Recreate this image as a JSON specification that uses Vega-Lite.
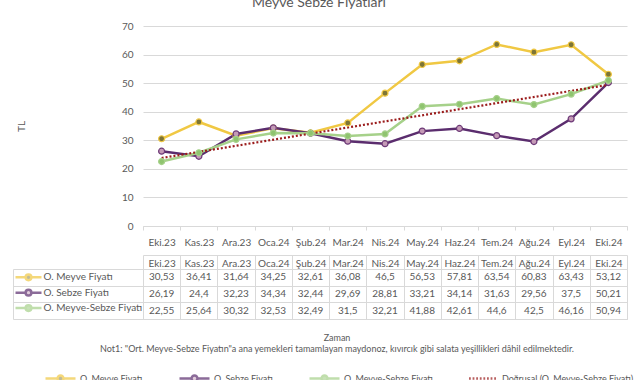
{
  "$schema": "https://vega.github.io/schema/vega-lite/v6.json",
  "padding": {"left": 12, "top": -4, "right": 4, "bottom": 0},
  "background": "white",
  "config": {
    "font": "Lato",
    "view": {"stroke": null},
    "locale": {"number": {"decimal": ",", "thousands": ".", "grouping": [3], "currency": ["", " TL"]}},
    "axis": {"labelFont": "Lato", "titleFont": "Lato", "labelColor": "#595959", "titleColor": "#595959"},
    "legend": {"labelFont": "Lato", "labelColor": "#595959"}
  },
  "title": {"text": "Meyve Sebze Fiyatları", "fontSize": 14, "fontWeight": "normal", "color": "#595959", "font": "Lato", "anchor": "middle", "frame": "group", "dx": -66, "offset": -3, "baseline": "bottom"},
  "datasets": {
    "prices": [
      {"month": "Eki.23", "i": 0, "series": "O. Meyve Fiyatı", "value": 30.53},
      {"month": "Kas.23", "i": 1, "series": "O. Meyve Fiyatı", "value": 36.41},
      {"month": "Ara.23", "i": 2, "series": "O. Meyve Fiyatı", "value": 31.64},
      {"month": "Oca.24", "i": 3, "series": "O. Meyve Fiyatı", "value": 34.25},
      {"month": "Şub.24", "i": 4, "series": "O. Meyve Fiyatı", "value": 32.61},
      {"month": "Mar.24", "i": 5, "series": "O. Meyve Fiyatı", "value": 36.08},
      {"month": "Nis.24", "i": 6, "series": "O. Meyve Fiyatı", "value": 46.5},
      {"month": "May.24", "i": 7, "series": "O. Meyve Fiyatı", "value": 56.53},
      {"month": "Haz.24", "i": 8, "series": "O. Meyve Fiyatı", "value": 57.81},
      {"month": "Tem.24", "i": 9, "series": "O. Meyve Fiyatı", "value": 63.54},
      {"month": "Ağu.24", "i": 10, "series": "O. Meyve Fiyatı", "value": 60.83},
      {"month": "Eyl.24", "i": 11, "series": "O. Meyve Fiyatı", "value": 63.43},
      {"month": "Eki.24", "i": 12, "series": "O. Meyve Fiyatı", "value": 53.12},
      {"month": "Eki.23", "i": 0, "series": "O. Sebze Fiyatı", "value": 26.19},
      {"month": "Kas.23", "i": 1, "series": "O. Sebze Fiyatı", "value": 24.4},
      {"month": "Ara.23", "i": 2, "series": "O. Sebze Fiyatı", "value": 32.23},
      {"month": "Oca.24", "i": 3, "series": "O. Sebze Fiyatı", "value": 34.34},
      {"month": "Şub.24", "i": 4, "series": "O. Sebze Fiyatı", "value": 32.44},
      {"month": "Mar.24", "i": 5, "series": "O. Sebze Fiyatı", "value": 29.69},
      {"month": "Nis.24", "i": 6, "series": "O. Sebze Fiyatı", "value": 28.81},
      {"month": "May.24", "i": 7, "series": "O. Sebze Fiyatı", "value": 33.21},
      {"month": "Haz.24", "i": 8, "series": "O. Sebze Fiyatı", "value": 34.14},
      {"month": "Tem.24", "i": 9, "series": "O. Sebze Fiyatı", "value": 31.63},
      {"month": "Ağu.24", "i": 10, "series": "O. Sebze Fiyatı", "value": 29.56},
      {"month": "Eyl.24", "i": 11, "series": "O. Sebze Fiyatı", "value": 37.5},
      {"month": "Eki.24", "i": 12, "series": "O. Sebze Fiyatı", "value": 50.21},
      {"month": "Eki.23", "i": 0, "series": "O. Meyve-Sebze Fiyatı", "value": 22.55},
      {"month": "Kas.23", "i": 1, "series": "O. Meyve-Sebze Fiyatı", "value": 25.64},
      {"month": "Ara.23", "i": 2, "series": "O. Meyve-Sebze Fiyatı", "value": 30.32},
      {"month": "Oca.24", "i": 3, "series": "O. Meyve-Sebze Fiyatı", "value": 32.53},
      {"month": "Şub.24", "i": 4, "series": "O. Meyve-Sebze Fiyatı", "value": 32.49},
      {"month": "Mar.24", "i": 5, "series": "O. Meyve-Sebze Fiyatı", "value": 31.5},
      {"month": "Nis.24", "i": 6, "series": "O. Meyve-Sebze Fiyatı", "value": 32.21},
      {"month": "May.24", "i": 7, "series": "O. Meyve-Sebze Fiyatı", "value": 41.88},
      {"month": "Haz.24", "i": 8, "series": "O. Meyve-Sebze Fiyatı", "value": 42.61},
      {"month": "Tem.24", "i": 9, "series": "O. Meyve-Sebze Fiyatı", "value": 44.6},
      {"month": "Ağu.24", "i": 10, "series": "O. Meyve-Sebze Fiyatı", "value": 42.5},
      {"month": "Eyl.24", "i": 11, "series": "O. Meyve-Sebze Fiyatı", "value": 46.16},
      {"month": "Eki.24", "i": 12, "series": "O. Meyve-Sebze Fiyatı", "value": 50.94}
    ],
    "months": [
      {"month": "Eki.23", "i": 0}, {"month": "Kas.23", "i": 1}, {"month": "Ara.23", "i": 2},
      {"month": "Oca.24", "i": 3}, {"month": "Şub.24", "i": 4}, {"month": "Mar.24", "i": 5},
      {"month": "Nis.24", "i": 6}, {"month": "May.24", "i": 7}, {"month": "Haz.24", "i": 8},
      {"month": "Tem.24", "i": 9}, {"month": "Ağu.24", "i": 10}, {"month": "Eyl.24", "i": 11},
      {"month": "Eki.24", "i": 12}
    ]
  },
  "bounds": "flush",
  "spacing": 43,
  "resolve": {
    "scale": {"stroke": "independent", "fill": "independent", "shape": "independent"},
    "legend": {"stroke": "independent", "fill": "independent", "shape": "independent"}
  },
  "vconcat": [
    {
      "width": 484,
      "height": 200,
      "data": {"name": "prices"},
      "encoding": {
        "x": {"field": "month", "type": "nominal", "scale": {"type": "band", "domain": ["Eki.23","Kas.23","Ara.23","Oca.24","Şub.24","Mar.24","Nis.24","May.24","Haz.24","Tem.24","Ağu.24","Eyl.24","Eki.24"], "paddingInner": 0, "paddingOuter": 0},
          "axis": {"orient": "bottom", "title": null, "labelAngle": 0, "labelFontSize": 10, "labelPadding": 7, "tickBand": "extent", "ticks": true, "tickSize": 4, "tickColor": "#d9d9d9", "domainColor": "#d9d9d9", "grid": false}},
        "y": {"field": "value", "type": "quantitative", "scale": {"domain": [0, 70]},
          "axis": {"values": [0,10,20,30,40,50,60,70], "tickCount": 8, "title": "TL", "titleFontSize": 10, "titleFontWeight": "normal", "titlePadding": 95, "labelFontSize": 10, "labelPadding": 10, "ticks": false, "domain": false, "grid": true, "gridColor": "#d9d9d9"}}
      },
      "layer": [
        {
          "transform": [{"filter": "datum.series === 'O. Meyve Fiyatı'"}],
          "mark": {"type": "line", "strokeWidth": 2.5, "stroke": "#f0c843"}
        },
        {
          "transform": [{"filter": "datum.series === 'O. Sebze Fiyatı'"}],
          "mark": {"type": "line", "strokeWidth": 2.5, "stroke": "#5b2d6e"}
        },
        {
          "transform": [{"filter": "datum.series === 'O. Meyve-Sebze Fiyatı'"}],
          "mark": {"type": "line", "strokeWidth": 2.5, "stroke": "#a6d18a"}
        },
        {
          "transform": [
            {"filter": "datum.series === 'O. Meyve-Sebze Fiyatı'"},
            {"regression": "value", "on": "i", "extent": [0, 12]},
            {"lookup": "i", "from": {"data": {"name": "months"}, "key": "i", "fields": ["month"]}}
          ],
          "mark": {"type": "line", "strokeWidth": 2.2, "strokeDash": [2, 2], "stroke": "#9b1c1c"}
        },
        {
          "transform": [{"filter": "datum.series === 'O. Meyve Fiyatı'"}],
          "mark": {"type": "point", "shape": "circle", "filled": true, "size": 36, "strokeWidth": 1.2, "opacity": 1, "fill": "#7d7536", "stroke": "#f0c843"}
        },
        {
          "transform": [{"filter": "datum.series === 'O. Sebze Fiyatı'"}],
          "mark": {"type": "point", "shape": "circle", "filled": true, "size": 36, "strokeWidth": 1.2, "opacity": 1, "fill": "#c49ab6", "stroke": "#6e3a78"}
        },
        {
          "transform": [{"filter": "datum.series === 'O. Meyve-Sebze Fiyatı'"}],
          "mark": {"type": "point", "shape": "circle", "filled": true, "size": 36, "strokeWidth": 1.2, "opacity": 1, "fill": "#8fc46f", "stroke": "#a6d18a"}
        },
        {
          "transform": [{"filter": "false"}],
          "mark": {"type": "point", "filled": true, "strokeWidth": 2.5},
          "encoding": {
            "stroke": {"field": "series", "type": "nominal", "scale": {"domain": ["O. Meyve Fiyatı","O. Sebze Fiyatı","O. Meyve-Sebze Fiyatı","Doğrusal (O. Meyve-Sebze Fiyatı)"], "range": ["#f0c843","#5b2d6e","#a6d18a","#9b1c1c"]},
              "legend": {"title": null, "orient": "none", "legendX": -87, "legendY": 348, "direction": "horizontal", "gridAlign": "none", "symbolSize": 36, "symbolStrokeWidth": 2.5, "labelFontSize": 9, "labelOffset": 15, "columnPadding": 31, "padding": 0}},
            "fill": {"field": "series", "type": "nominal", "scale": {"domain": ["O. Meyve Fiyatı","O. Sebze Fiyatı","O. Meyve-Sebze Fiyatı","Doğrusal (O. Meyve-Sebze Fiyatı)"], "range": ["#7d7536","#c49ab6","#8fc46f","transparent"]}},
            "shape": {"field": "series", "type": "nominal", "scale": {"domain": ["O. Meyve Fiyatı","O. Sebze Fiyatı","O. Meyve-Sebze Fiyatı","Doğrusal (O. Meyve-Sebze Fiyatı)"], "range": ["M-5,0H-1M1,0H5M-1,0A1,1,0,1,0,1,0A1,1,0,1,0,-1,0Z","M-5,0H-1M1,0H5M-1,0A1,1,0,1,0,1,0A1,1,0,1,0,-1,0Z","M-5,0H-1M1,0H5M-1,0A1,1,0,1,0,1,0A1,1,0,1,0,-1,0Z","M-4.5,0H-3.9M-3.3,0H-2.7M-2.1,0H-1.5M-0.9,0H-0.3M0.3,0H0.9M1.5,0H2.1M2.7,0H3.3M3.9,0H4.5"]}}
          }
        }
      ]
    },
    {
      "width": 484,
      "height": 50,
      "view": {"stroke": "#d9d9d9"},
      "data": {"name": "prices"},
      "title": {"text": ["Zaman", "Not1: \"Ort. Meyve-Sebze Fiyatın\"a ana yemekleri tamamlayan maydonoz, kıvırcık gibi salata yeşillikleri dâhil edilmektedir."], "orient": "bottom", "anchor": "middle", "frame": "group", "dx": -48, "offset": 14, "fontSize": 9, "fontWeight": "normal", "color": "#595959", "font": "Lato", "lineHeight": 11},
      "encoding": {
        "x": {"field": "month", "type": "nominal", "scale": {"type": "band", "domain": ["Eki.23","Kas.23","Ara.23","Oca.24","Şub.24","Mar.24","Nis.24","May.24","Haz.24","Tem.24","Ağu.24","Eyl.24","Eki.24"], "paddingInner": 0, "paddingOuter": 0},
          "axis": {"orient": "top", "offset": 14, "tickSize": -14, "tickBand": "extent", "tickColor": "#d9d9d9", "domainColor": "#d9d9d9", "grid": true, "gridColor": "#d9d9d9", "labelFontSize": 10, "labelPadding": 1, "labelAngle": 0, "title": null}},
        "y": {"field": "series", "type": "nominal", "scale": {"type": "band", "domain": ["O. Meyve Fiyatı","O. Sebze Fiyatı","O. Meyve-Sebze Fiyatı"], "paddingInner": 0, "paddingOuter": 0},
          "axis": {"orient": "left", "offset": 130, "tickSize": -130, "tickBand": "extent", "tickColor": "#d9d9d9", "domainColor": "#d9d9d9", "grid": true, "gridColor": "#d9d9d9", "labels": false, "title": null}}
      },
      "layer": [
        {
          "mark": {"type": "text", "fontSize": 10, "color": "#595959", "font": "Lato"},
          "encoding": {
            "text": {"field": "value", "type": "quantitative", "format": ".2~f"}
          }
        },
        {
          "transform": [{"filter": "false"}],
          "mark": {"type": "point", "filled": true, "strokeWidth": 2.5},
          "encoding": {
            "stroke": {"field": "series", "type": "nominal", "scale": {"domain": ["O. Meyve Fiyatı","O. Sebze Fiyatı","O. Meyve-Sebze Fiyatı"], "range": ["#f0c843","#5b2d6e","#a6d18a"]},
              "legend": {"title": null, "orient": "none", "legendX": -119.5, "legendY": 3.3, "direction": "vertical", "symbolSize": 36, "symbolStrokeWidth": 2.5, "labelFontSize": 10, "labelOffset": 10, "rowPadding": -0.6, "padding": 0}},
            "fill": {"field": "series", "type": "nominal", "scale": {"domain": ["O. Meyve Fiyatı","O. Sebze Fiyatı","O. Meyve-Sebze Fiyatı"], "range": ["#7d7536","#c49ab6","#8fc46f"]}},
            "shape": {"field": "series", "type": "nominal", "scale": {"domain": ["O. Meyve Fiyatı","O. Sebze Fiyatı","O. Meyve-Sebze Fiyatı"], "range": ["M-4.33,0H-0.95M0.95,0H4.33M-0.95,0A0.95,0.95,0,1,0,0.95,0A0.95,0.95,0,1,0,-0.95,0Z","M-4.33,0H-0.95M0.95,0H4.33M-0.95,0A0.95,0.95,0,1,0,0.95,0A0.95,0.95,0,1,0,-0.95,0Z","M-4.33,0H-0.95M0.95,0H4.33M-0.95,0A0.95,0.95,0,1,0,0.95,0A0.95,0.95,0,1,0,-0.95,0Z"]}}
          }
        }
      ]
    }
  ]
}
